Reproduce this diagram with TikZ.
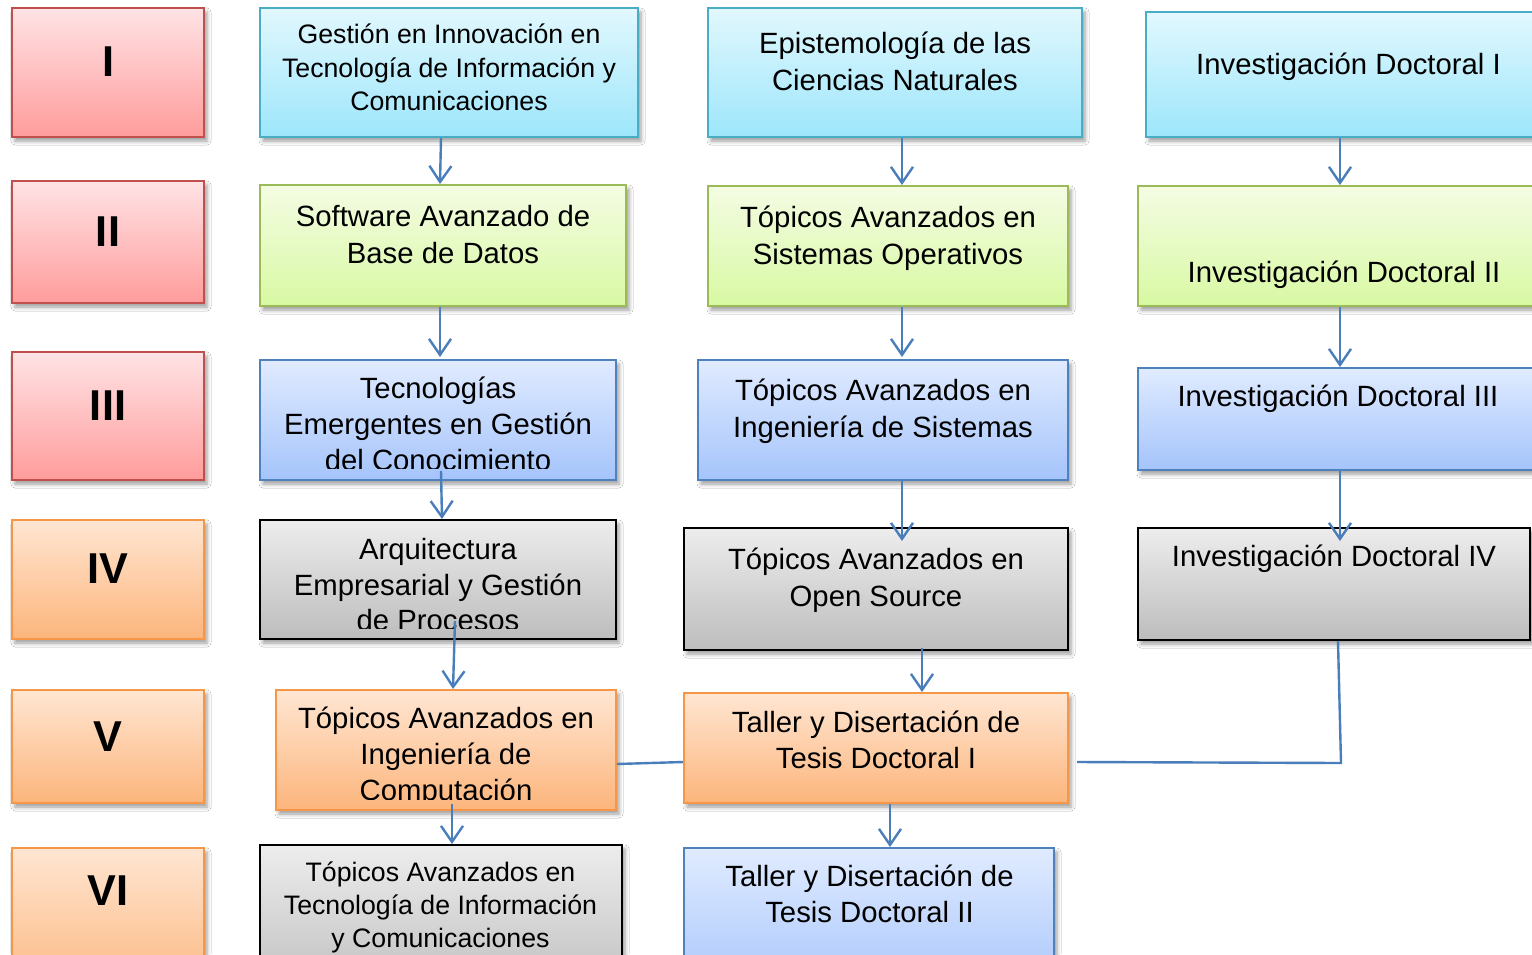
\documentclass[tikz,border=0pt]{standalone}
\usepackage{fontspec}
\setmainfont{Liberation Sans}
\usetikzlibrary{arrows.meta,calc,shadows.blur}
\definecolor{redT}{HTML}{FFE3E5}\definecolor{redB}{HTML}{FF9C9C}\definecolor{redD}{HTML}{C0504D}
\definecolor{oraT}{HTML}{FFE6D2}\definecolor{oraB}{HTML}{FCB57C}\definecolor{oraD}{HTML}{F79646}
\definecolor{cyaT}{HTML}{E2F8FE}\definecolor{cyaB}{HTML}{9DE6FB}\definecolor{cyaD}{HTML}{4BACC6}
\definecolor{greT}{HTML}{F4FCE3}\definecolor{greB}{HTML}{D8F9A3}\definecolor{greD}{HTML}{9BBB59}
\definecolor{bluT}{HTML}{E0EBFF}\definecolor{bluB}{HTML}{A5C4FB}\definecolor{bluD}{HTML}{4F81BD}
\definecolor{graT}{HTML}{EDEDED}\definecolor{graB}{HTML}{BDBDBD}
\definecolor{arrC}{HTML}{4A7EBB}
\tikzset{
  boxbase/.style={draw, line width=1pt, inner sep=0pt,
    blur shadow={shadow xshift=1.5pt, shadow yshift=-2pt, shadow blur radius=2pt, shadow opacity=40}},
  redbox/.style={boxbase, draw=redD, top color=redT, bottom color=redB},
  orabox/.style={boxbase, draw=oraD, top color=oraT, bottom color=oraB},
  cyabox/.style={boxbase, draw=cyaD, top color=cyaT, bottom color=cyaB},
  grebox/.style={boxbase, draw=greD, top color=greT, bottom color=greB},
  blubox/.style={boxbase, draw=bluD, top color=bluT, bottom color=bluB},
  grabox/.style={boxbase, draw=black, top color=graT, bottom color=graB},
  txt/.style={inner sep=0pt, anchor=base, font=\fontsize{14.65}{17}\selectfont},
  smalltxt/.style={font=\fontsize{13.35}{16}\selectfont},
  romantxt/.style={inner sep=0pt, anchor=base, font=\fontsize{21.6}{24}\selectfont\bfseries},
  conn/.style={draw=arrC, line width=1.2pt, -{Straight Barb[length=8pt,width=11pt,line width=1.2pt]}},
  plainline/.style={draw=arrC, line width=1.2pt},
}
\newcommand\bx[6]{\node[#2, minimum width={(#5-#3)*0.5pt}, minimum height={(#6-#4)*0.5pt}] (#1) at ({(#3+#5)/2},{(#4+#6)/2}) {};}
\newcommand\txtlines[6]{\foreach \t [count=\i] in {#6} {\node[txt,#5] (#1-\i) at (#2,{#3+(\i-1)*#4}) {\t};}}
\begin{document}
\begin{tikzpicture}[x=0.5pt,y=-0.5pt]
\clip (0,0) rectangle (1532,954);
\fill[white] (0,0) rectangle (1532,954);
% roman boxes
\bx{rI}{redbox}{12}{8}{204}{137}
\bx{rII}{redbox}{12}{181}{204}{303}
\bx{rIII}{redbox}{12}{352}{204}{480}
\bx{rIV}{orabox}{12}{520}{204}{639}
\bx{rV}{orabox}{12}{690}{204}{803}
\bx{rVI}{orabox}{12}{848}{204}{1000}
\node[romantxt] (tI) at (108,76.5) {I};
\node[romantxt] (tII) at (108,246.5) {II};
\node[romantxt] (tIII) at (108,420.5) {III};
\node[romantxt] (tIV) at (108,583.5) {IV};
\node[romantxt] (tV) at (108,751.5) {V};
\node[romantxt] (tVI) at (108,905.5) {VI};
% column 1
\bx{c1r1}{cyabox}{260}{8}{638}{137}
\bx{c1r2}{grebox}{260}{185}{626}{306}
\bx{c1r3}{blubox}{260}{360}{616}{480}
\bx{c1r4}{grabox}{260}{520}{616}{639}
\bx{c1r5}{orabox}{276}{690}{616}{810}
\bx{c1r6}{grabox}{260}{845}{622}{1000}
% column 2
\bx{c2r1}{cyabox}{708}{8}{1082}{137}
\bx{c2r2}{grebox}{708}{186}{1068}{306}
\bx{c2r3}{blubox}{698}{360}{1068}{480}
\bx{c2r4}{grabox}{684}{528}{1068}{650}
\bx{c2r5}{orabox}{684}{693}{1068}{803}
\bx{c2r6}{blubox}{684}{848}{1054}{1000}
% column 3
\bx{c3r1}{cyabox}{1146}{12}{1570}{137}
\bx{c3r2}{grebox}{1138}{186}{1570}{306}
\bx{c3r3}{blubox}{1138}{368}{1570}{470}
\bx{c3r4}{grabox}{1138}{528}{1530}{640}
% texts
\txtlines{t11}{449}{43.5}{33.5}{smalltxt}{Gestión en Innovación en,Tecnología de Información y,Comunicaciones}
\txtlines{t12}{443}{226.5}{37}{}{Software Avanzado de,Base de Datos}
\begin{scope}
\clip (262,362) rectangle (614,468);
\txtlines{t13}{438}{398.5}{36}{}{Tecnologías,Emergentes en Gestión,del Conocimiento}
\end{scope}
\begin{scope}
\clip (262,522) rectangle (614,628);
\txtlines{t14}{438}{559.5}{35.5}{}{Arquitectura,Empresarial y Gestión,de Procesos}
\end{scope}
\begin{scope}
\clip (278,692) rectangle (614,799);
\txtlines{t15}{446}{728.5}{36}{}{Tópicos Avanzados en,Ingeniería de,Computación}
\end{scope}
\txtlines{t16}{440.5}{881.5}{33}{smalltxt}{Tópicos Avanzados en,Tecnología de Información,y Comunicaciones}
\txtlines{t21}{895}{53.5}{37}{}{Epistemología de las,Ciencias Naturales}
\txtlines{t22}{888}{227.5}{37}{}{Tópicos Avanzados en,Sistemas Operativos}
\txtlines{t23}{883}{400.5}{37}{}{Tópicos Avanzados en,Ingeniería de Sistemas}
\txtlines{t24}{876}{569.5}{37}{}{Tópicos Avanzados en,Open Source}
\txtlines{t25}{876}{732.5}{36}{}{Taller y Disertación de,Tesis Doctoral I}
\txtlines{t26}{869.5}{886.5}{36}{}{Taller y Disertación de,Tesis Doctoral II}
\node[txt] (t31) at (1348.5,74.5) {Investigación Doctoral I};
\node[txt] (t32) at (1344,282.5) {Investigación Doctoral II};
\node[txt] (t33) at (1338,406.5) {Investigación Doctoral III};
\node[txt] (t34) at (1334,566.5) {Investigación Doctoral IV};
% connectors column 1
\draw[conn] ($(c1r1.south)+(-8,0)$) -- ($(c1r2.north)+(-3,0)$);
\draw[conn] ($(c1r2.south)+(-3,0)$) -- ($(c1r3.north)+(2,-2)$);
\draw[conn] ($(c1r3.south)+(3,-10)$) -- ($(c1r4.north)+(4,0)$);
\draw[conn] ($(c1r4.south)+(17,-19)$) -- ($(c1r5.north)+(7,0)$);
\draw[conn] ($(c1r5.south)+(6,-7)$) -- ($(c1r6.north)+(11,0)$);
% connectors column 2
\draw[conn] ($(c2r1.south)+(7,0)$) -- ($(c2r2.north)+(14,0)$);
\draw[conn] ($(c2r2.south)+(14,0)$) -- ($(c2r3.north)+(19,-2)$);
\draw[conn] ($(c2r3.south)+(19,0)$) -- ($(c2r4.north)+(26,14)$);
\draw[conn] ($(c2r4.south)+(46,-3)$) -- ($(c2r5.north)+(46,0)$);
\draw[conn] ($(c2r5.south)+(14,0)$) -- ($(c2r6.north)+(21,0)$);
% connectors column 3
\draw[conn] ($(c3r1.south)+(-18,0)$) -- ($(c3r2.north)+(-14,0)$);
\draw[conn] ($(c3r2.south)+(-14,0)$) -- ($(c3r3.north)+(-14,0)$);
\draw[conn] ($(c3r3.south)+(-14,0)$) -- ($(c3r4.north)+(6,14)$);
% plain lines
\draw[plainline] ($(c1r5.east)+(0,14)$) -- ($(c2r5.west)+(0,14)$);
\coordinate (knee) at (1341,763);
\draw[plainline] ($(c3r4.south)+(4,0)$) -- (knee) -- ($(c2r5.east)+(8,14)$);
\end{tikzpicture}
\end{document}
